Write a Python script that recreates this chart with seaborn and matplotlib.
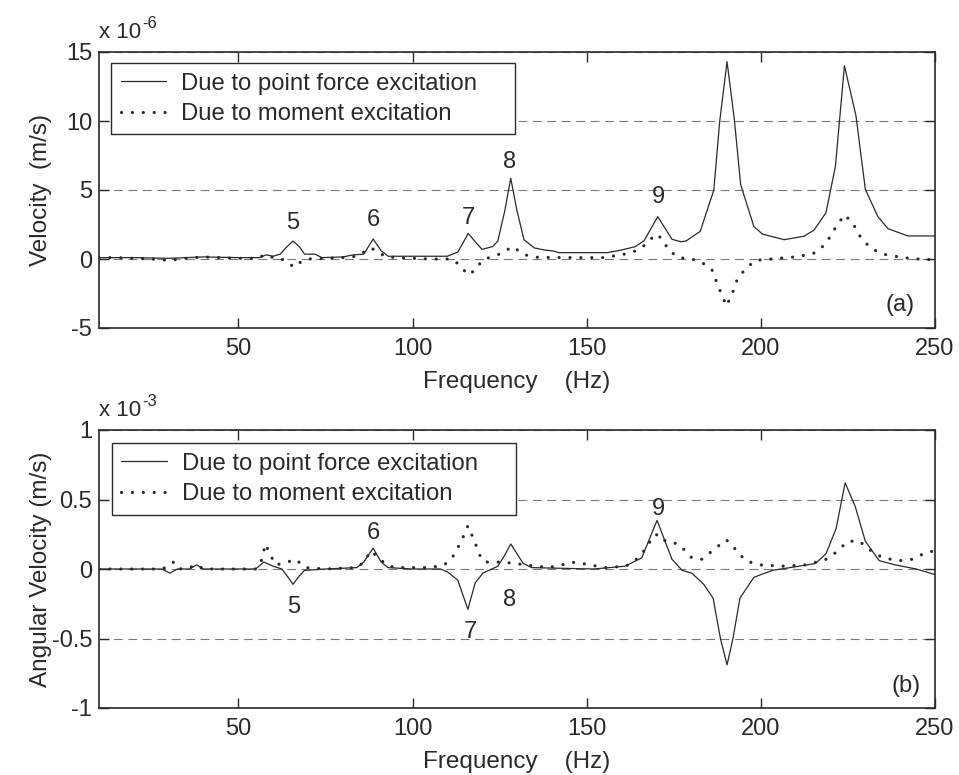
import matplotlib
matplotlib.use("Agg")
import matplotlib.pyplot as plt
import numpy as np
import pandas as pd
import seaborn as sns

# ---------------- data ----------------
# Panel (a): velocity, units of 1e-6 m/s
freq_a_force = [10, 20, 30, 40, 50, 56, 58, 60, 62, 64, 65.7, 67.5, 69, 72, 74, 80, 83, 86,
                88.7, 91, 93, 100, 110, 113, 116, 118.5, 120, 123, 124.5, 126.5, 128.2, 130,
                132, 135, 138, 140.5, 142, 156, 160, 164, 166.5, 170.4, 174.5, 177, 178.5,
                182.6, 186.5, 188.2, 190.3, 192.4, 194.2, 198, 200.5, 206.7, 212.4, 215.3,
                218.7, 221.4, 224, 227.3, 230, 233.6, 236.5, 242.2, 250]
vel_force = [0.1, 0.1, 0.05, 0.15, 0.1, 0.1, 0.3, 0.2, 0.35, 0.9, 1.3, 0.9, 0.35, 0.35, 0.1,
             0.15, 0.3, 0.35, 1.45, 0.6, 0.2, 0.2, 0.2, 0.5, 1.85, 1.1, 0.7, 0.9, 1.3, 3.5,
             5.85, 3.5, 1.4, 0.8, 0.65, 0.58, 0.46, 0.46, 0.65, 0.9, 1.33, 3.07, 1.43, 1.25,
             1.3, 2.0, 5.0, 10.0, 14.3, 10.1, 5.4, 2.35, 1.8, 1.4, 1.65, 2.1, 3.35, 6.7, 14.0,
             10.4, 5.05, 3.07, 2.2, 1.67, 1.67]

freq_a_moment = [10, 15, 20, 25, 30, 35, 40, 45, 50, 55, 58, 60, 62, 64, 66, 68, 70, 75, 80,
                 84, 86, 88, 90, 92, 95, 100, 105, 110, 112, 114, 116, 118, 120, 122.7, 125.5,
                 128.7, 132.2, 136, 145, 155, 161, 164.9, 167.8, 169.7, 171.6, 173.5, 176.4,
                 180.2, 183.1, 186, 187.8, 189, 190.1, 191.8, 193.2, 195.6, 198.5, 203, 210.7,
                 215.8, 218.7, 221.6, 224, 226.4, 228.8, 231.6, 235, 240.8, 246, 250]
vel_moment = [0.1, 0.1, 0.05, 0.0, -0.1, 0.05, 0.15, 0.1, 0.05, 0.05, 0.3, 0.1, 0.05, -0.2,
              -0.6, -0.2, 0.0, 0.05, 0.1, 0.2, 0.5, 0.8, 0.55, 0.2, 0.1, 0.05, 0.0, 0.0, -0.1,
              -0.6, -1.15, -0.8, -0.1, 0.17, 0.4, 0.9, 0.3, 0.12, 0.1, 0.1, 0.36, 0.65, 1.25,
              1.8, 1.5, 0.65, 0.1, 0.0, -0.25, -0.8, -2.0, -2.7, -3.4, -2.5, -1.5, -0.7, -0.1,
              0.0, 0.17, 0.46, 1.13, 2.34, 3.2, 2.6, 1.5, 0.78, 0.36, 0.1, -0.02, -0.05]

# Panel (b): angular velocity, units of 1e-3
freq_b_force = [10, 28, 30.4, 32.5, 36, 38, 40, 55, 57.3, 60, 62.5, 64, 65.7, 67.5, 69, 75,
                84, 86, 88.7, 91, 93, 100, 108, 110, 113, 115.9, 118, 120.2, 124.5, 126.5,
                128.2, 131.8, 134.2, 152, 161, 165.8, 170.2, 174.5, 177.4, 180.2, 183.6,
                186.3, 188.4, 190.3, 192, 194, 198, 203.3, 210.9, 215.7, 218.7, 221.6, 224.2,
                227.1, 230, 234, 238.5, 244.6, 250]
ang_force = [0.0, 0.0, -0.03, 0.0, 0.0, 0.03, 0.0, 0.0, 0.05, 0.02, 0.0, -0.05, -0.11, -0.05,
             -0.01, 0.0, 0.01, 0.05, 0.15, 0.05, 0.01, 0.0, 0.0, -0.02, -0.08, -0.29, -0.1,
             -0.03, 0.02, 0.1, 0.18, 0.04, 0.01, 0.0, 0.02, 0.08, 0.35, 0.07, -0.01, -0.03,
             -0.11, -0.21, -0.5, -0.69, -0.5, -0.21, -0.06, -0.01, 0.02, 0.04, 0.11, 0.29,
             0.62, 0.45, 0.2, 0.06, 0.03, 0.0, -0.04]

freq_b_moment = [10, 28, 30, 31.4, 33, 36, 38, 40, 55, 56.5, 57.8, 58.8, 60.7, 63, 66.4, 69.3,
                 75, 84, 86.1, 88, 90.4, 92.4, 95, 105, 109.2, 111.6, 114, 115.9, 117.8,
                 119.3, 120.7, 125.5, 129.4, 132.3, 139, 146.8, 150.7, 155.5, 161.2, 163.9,
                 166.8, 169.2, 170.7, 172.6, 176.4, 180.2, 183.1, 187, 190.1, 192.8, 195.6,
                 199.5, 206, 213.2, 218.7, 221.6, 225, 228.3, 231.1, 235, 239.8, 243.6, 247.5,
                 250]
ang_moment = [0.0, 0.0, 0.02, 0.05, 0.0, 0.01, 0.03, 0.0, 0.0, 0.05, 0.18, 0.12, 0.03, 0.04,
              0.07, 0.01, 0.0, 0.01, 0.05, 0.13, 0.08, 0.03, 0.01, 0.01, 0.03, 0.09, 0.2, 0.31,
              0.2, 0.1, 0.05, 0.05, 0.04, 0.03, 0.01, 0.05, 0.03, 0.01, 0.02, 0.06, 0.14, 0.24,
              0.25, 0.2, 0.18, 0.08, 0.07, 0.15, 0.21, 0.14, 0.06, 0.03, 0.02, 0.03, 0.07, 0.12,
              0.2, 0.2, 0.14, 0.08, 0.06, 0.07, 0.12, 0.13]

# Mode labels
modes_a = ["5", "6", "7", "8", "9"]
modes_a_x = [65.7, 88.7, 116, 128, 170.5]
modes_a_y = [2.6, 2.8, 3.0, 7.05, 4.5]
modes_b = ["5", "6", "7", "8", "9"]
modes_b_x = [66, 88.7, 116.5, 128, 170.5]
modes_b_y = [-0.27, 0.26, -0.45, -0.22, 0.435]

label_force = "Due to point force excitation"
label_moment = "Due to moment excitation"

# ---------------- style ----------------
sns.set_theme(style="white")
plt.rcParams["font.family"] = ["Liberation Sans", "DejaVu Sans"]
plt.rcParams["axes.unicode_minus"] = False

INK = "#2a2a2a"
GRID = "#7a7a7a"

W, H = 959, 775
fig = plt.figure(figsize=(W / 100, H / 100), dpi=100)
left = 99 / W
width = (935 - 99) / W
ax1 = fig.add_axes([left, 1 - 328 / H, width, (328 - 52) / H])
ax2 = fig.add_axes([left, 1 - 708 / H, width, (708 - 430) / H])

dot_style = dict(linestyle=(0, (0.01, 3.4)), linewidth=2.3, dash_capstyle="round")
solid_style = dict(linestyle="-", linewidth=0.9)


def draw(ax, fx, fy, mx, my):
    dff = pd.DataFrame({"f": fx, "v": fy})
    dfm = pd.DataFrame({"f": mx, "v": my})
    sns.lineplot(data=dff, x="f", y="v", ax=ax, color=INK, label=label_force,
                 estimator=None, zorder=3, **solid_style)
    sns.lineplot(data=dfm, x="f", y="v", ax=ax, color=INK, label=label_moment,
                 estimator=None, zorder=3, **dot_style)


draw(ax1, freq_a_force, vel_force, freq_a_moment, vel_moment)
draw(ax2, freq_b_force, ang_force, freq_b_moment, ang_moment)

exp_texts = []
panels = [
    (ax1, (-5, 15), [-5, 0, 5, 10, 15], "Velocity  (m/s)", "-6", "(a)", (240.1, -3.3),
     (12 / 836, 0.0, (515 - 111) / 836, (328 - 63) / 276)),
    (ax2, (-1, 1), [-1, -0.5, 0, 0.5, 1], "Angular Velocity (m/s)", "-3", "(b)", (241.6, -0.845),
     (12.7 / 836, 0.0, (515.7 - 111.7) / 836, (708 - 443.3) / 278)),
]
for ax, ylim, yticks, ylab, exp, tag, tagxy, legbox in panels:
    ax.set_xlim(10, 250)
    ax.set_ylim(*ylim)
    ax.set_xticks([50, 100, 150, 200, 250])
    ax.set_yticks(yticks)
    ax.set_yticklabels([("%g" % t) for t in yticks])
    ax.yaxis.grid(True, linestyle=(0, (8, 5)), color=GRID, linewidth=0.8, zorder=1)
    ax.xaxis.grid(False)
    for s in ax.spines.values():
        s.set_visible(True)
        s.set_color(INK)
        s.set_linewidth(1.2)
    ax.tick_params(axis="both", direction="in", length=7, width=1, color=INK,
                   top=True, right=True, bottom=True, left=True,
                   labelsize=17, labelcolor=INK)
    ax.tick_params(axis="x", pad=7)
    ax.tick_params(axis="y", pad=5)
    ax.set_xlabel("Frequency    (Hz)", fontsize=17.5, color=INK, labelpad=8)
    ax.set_ylabel(ylab, fontsize=17.5, color=INK)
    ax.yaxis.set_label_coords(-47 / 836, 0.5)
    t = ax.text(0.0, 1.05, "x 10", transform=ax.transAxes, fontsize=16, color=INK,
                ha="left", va="baseline")
    exp_texts.append((ax, t, exp))
    ax.text(tagxy[0], tagxy[1], tag, fontsize=17, color=INK, ha="center", va="center")
    leg = ax.legend(loc="upper left", bbox_to_anchor=legbox, mode="expand",
                    fontsize=17.2, frameon=True, fancybox=False,
                    edgecolor=INK, framealpha=1, borderaxespad=0.0, handlelength=1.9,
                    handletextpad=0.65, borderpad=0.4, labelspacing=0.35)
    leg.get_frame().set_linewidth(1.0)
    for lt in leg.get_texts():
        lt.set_color(INK)

for lab, x, y in zip(modes_a, modes_a_x, modes_a_y):
    ax1.text(x, y, lab, fontsize=17, color=INK, ha="center", va="center")
for lab, x, y in zip(modes_b, modes_b_x, modes_b_y):
    ax2.text(x, y, lab, fontsize=17, color=INK, ha="center", va="center")

# superscript exponent with a plain hyphen, placed after "x 10"
fig.canvas.draw()
renderer = fig.canvas.get_renderer()
for ax, t, exp in exp_texts:
    bb = t.get_window_extent(renderer)
    base_y = ax.transAxes.transform((0.0, 1.05))[1]
    fig.text((bb.x1 + 1) / W, (base_y + 10) / H, exp, fontsize=12, color=INK,
             ha="left", va="baseline")

fig.savefig("out.png", dpi=100, facecolor="white")
